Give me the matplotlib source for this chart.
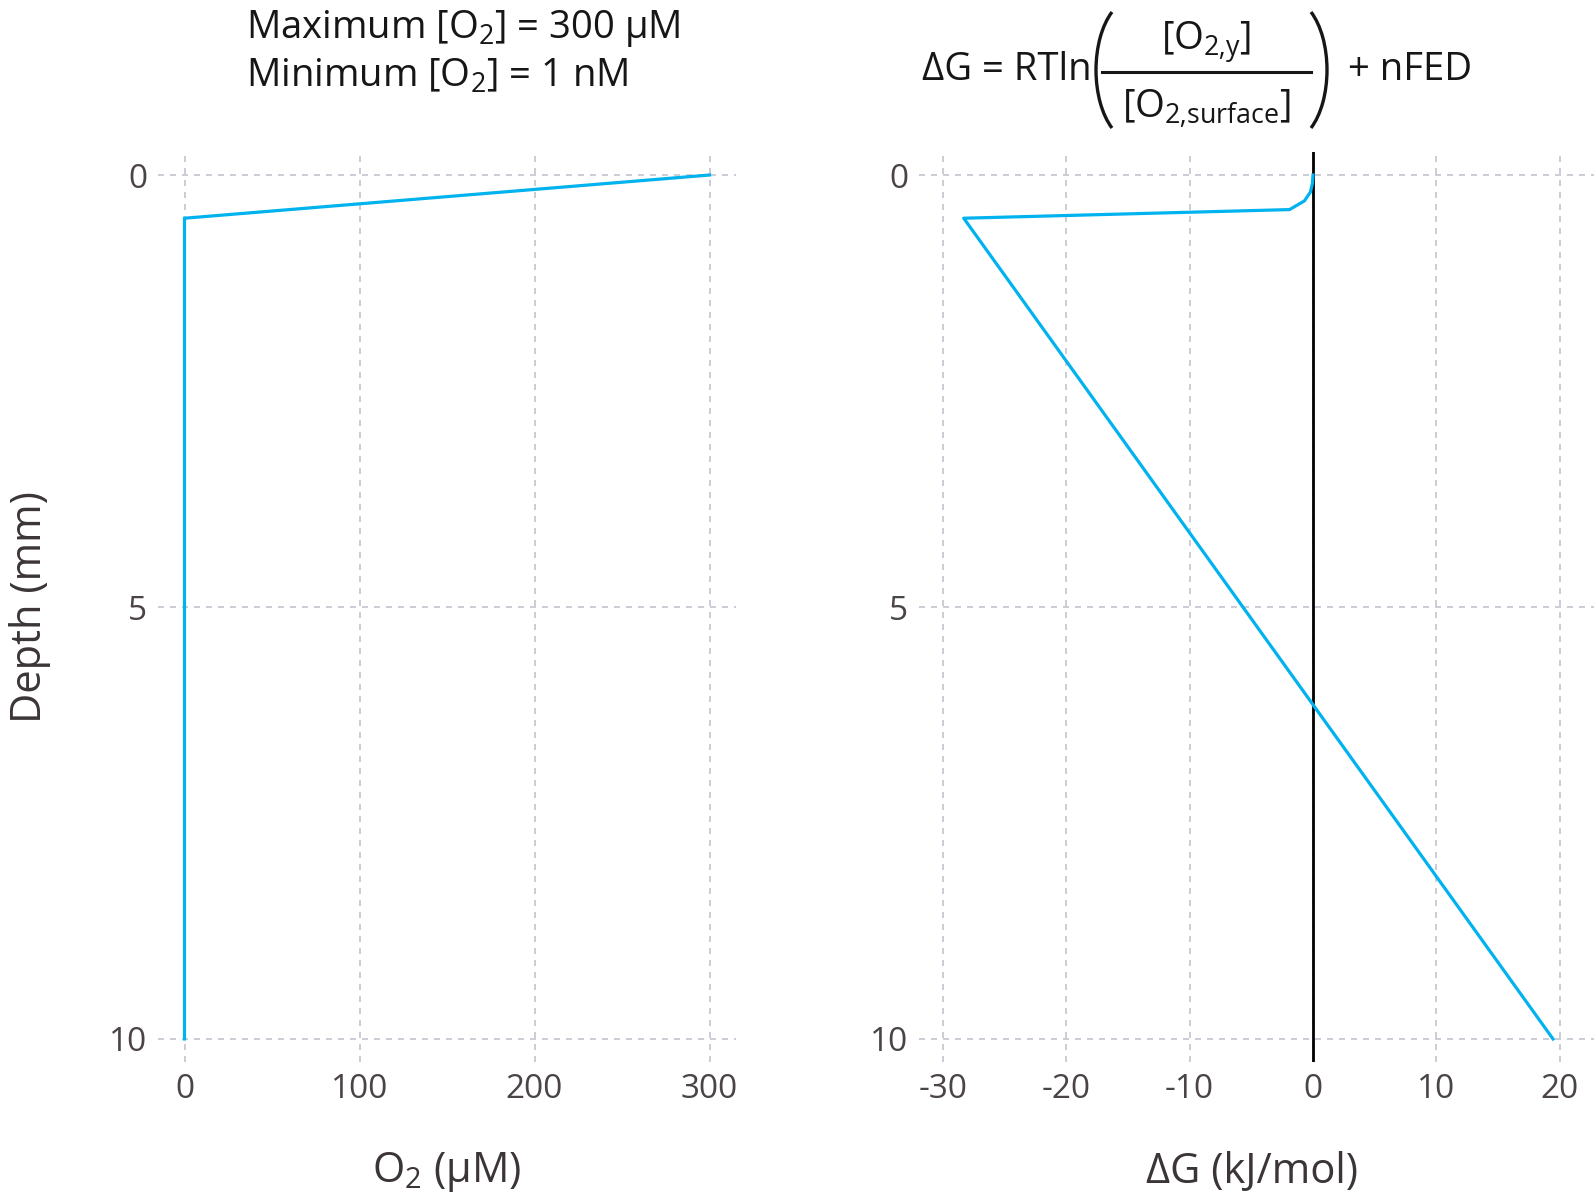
import numpy as np
import matplotlib
matplotlib.use("Agg")
import matplotlib.pyplot as plt
from matplotlib.patches import Arc
from matplotlib.lines import Line2D
from matplotlib.ticker import FuncFormatter

plt.rcParams['font.family'] = ['Open Sans', 'DejaVu Sans']
plt.rcParams['mathtext.fontset'] = 'custom'
plt.rcParams['mathtext.rm'] = 'Open Sans'
plt.rcParams['mathtext.it'] = 'Open Sans'
plt.rcParams['axes.unicode_minus'] = False

# ---- data ----
depth_o2 = [0.0, 0.5, 10.0]            # mm
o2_uM = [300.0, 0.001, 0.001]          # µM

depth_dg = [0.0, 0.1, 0.2, 0.3, 0.4, 0.5, 10.0]        # mm
dg_kJ = [0.0, -0.05, -0.22, -0.7, -1.9, -28.3, 19.45]  # kJ/mol

o2_ticks = [0, 100, 200, 300]
dg_ticks = [-30, -20, -10, 0, 10, 20]
depth_ticks = [0, 5, 10]

# ---- style ----
W, H = 1594, 1203
DPI = 100
BLUE = '#00B2EE'
TXT = '#3b3438'
TICK = '#4a4347'
TITLE_C = '#161616'
GRID = '#c3c3cf'
TICK_FS = 24
TITLE_FS = 27.5
AXT_FS = 30

fig = plt.figure(figsize=(W / DPI, H / DPI), dpi=DPI)

def px_axes(x0, x1, y0, y1):
    return fig.add_axes([x0 / W, 1 - y1 / H, (x1 - x0) / W, (y1 - y0) / H])

ax1 = px_axes(158.25, 735.75, 151.7, 1062.3)
ax2 = px_axes(919.3, 1594, 151.7, 1062.3)

for ax in (ax1, ax2):
    for s in ax.spines.values():
        s.set_visible(False)
    ax.set_ylim(10.27, -0.27)
    ax.set_yticks(depth_ticks)
    ax.grid(True, color=GRID, linewidth=1.2, linestyle=(0, (3.6, 3.6)))
    ax.set_axisbelow(True)
    ax.tick_params(length=0, labelsize=TICK_FS, labelcolor=TICK, pad=8)
    ax.set_facecolor('white')

ax1.set_xlim(-15, 315)
ax1.set_xticks(o2_ticks)
ax1.plot(o2_uM, depth_o2, color=BLUE, linewidth=2.3, solid_joinstyle='miter')

ax2.set_xlim(-31.9, 22.77)
ax2.set_xticks(dg_ticks)
ax2.xaxis.set_major_formatter(FuncFormatter(lambda v, p: f"{int(round(v))}"))
ax2.axvline(0, color='black', linewidth=2.0)
ax2.plot(dg_kJ, depth_dg, color=BLUE, linewidth=2.3)

# axis titles
def ftext(x, y, s, **kw):
    return fig.text(x / W, 1 - y / H, s, **kw)

ftext(447, 1172, 'O$_{\\mathrm{2}}$ (µM)', ha='center', va='center', fontsize=AXT_FS, color=TXT)
ftext(1252, 1172, 'ΔG (kJ/mol)', ha='center', va='center', fontsize=AXT_FS, color=TXT)
ftext(30, 607, 'Depth (mm)', ha='center', va='center', rotation=90, fontsize=AXT_FS, color=TXT)

# left title
ftext(246, 38, 'Maximum [O$_{\\mathrm{2}}$] = 300 µM', ha='left', va='baseline', fontsize=TITLE_FS, color=TITLE_C)
ftext(246, 87, 'Minimum [O$_{\\mathrm{2}}$] = 1 nM', ha='left', va='baseline', fontsize=TITLE_FS, color=TITLE_C)

# right title (formula)
ftext(1092, 80, 'ΔG = RTln', ha='right', va='baseline', fontsize=TITLE_FS, color=TITLE_C)
ftext(1348, 80, '+ nFED', ha='left', va='baseline', fontsize=TITLE_FS, color=TITLE_C)
ftext(1206, 50, '[O$_{\\mathrm{2\u201ay}}$]', ha='center', va='baseline', fontsize=TITLE_FS, color=TITLE_C)
ftext(1206, 118, '[O$_{\\mathrm{2\u201asurface}}$]', ha='center', va='baseline', fontsize=TITLE_FS, color=TITLE_C)

# fraction bar
fig.add_artist(Line2D([1102 / W, 1311 / W], [1 - 71.7 / H, 1 - 71.7 / H],
                      transform=fig.transFigure, color=TITLE_C, linewidth=2.2))

# parentheses as arcs (pixel -> inches)
def paren(xc, yc, a, b, left=True):
    t = np.deg2rad(55)
    ang = np.rad2deg(np.arctan2(b * np.sin(t), a * np.cos(t)))
    if left:
        th1, th2 = 180 - ang, 180 + ang
    else:
        th1, th2 = -ang, ang
    arc = Arc((xc / DPI, (H - yc) / DPI), 2 * a / DPI, 2 * b / DPI,
              theta1=th1, theta2=th2, transform=fig.dpi_scale_trans,
              color=TITLE_C, linewidth=2.4)
    fig.add_artist(arc)

paren(1096 + 37.5, 70, 37.5, 70.8, left=True)
paren(1327 - 37.5, 70, 37.5, 70.8, left=False)

fig.savefig('out.png', dpi=DPI, facecolor='white')
